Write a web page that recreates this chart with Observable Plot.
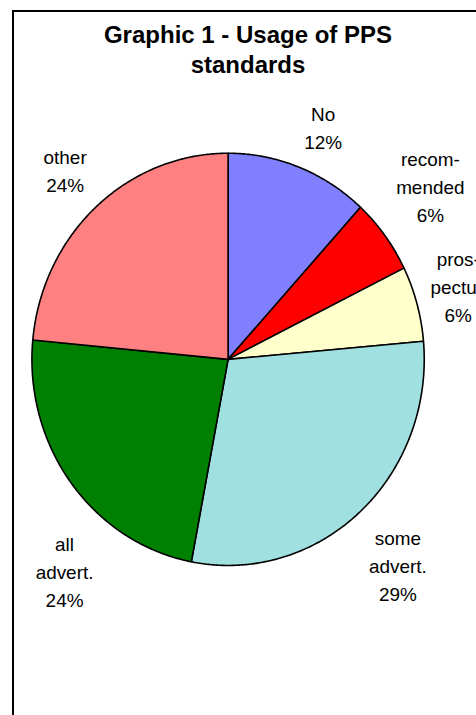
<!DOCTYPE html>
<html>
<head>
<meta charset="utf-8">
<script src="https://cdn.jsdelivr.net/npm/d3@7"></script>
<script src="https://cdn.jsdelivr.net/npm/@observablehq/plot@0.6"></script>
<style>
  html, body { margin: 0; padding: 0; background: #fff; }
  body { width: 476px; height: 715px; overflow: hidden; position: relative; font-family: "Liberation Sans", Arial, sans-serif; }
  #frame { position: absolute; left: 12px; top: 10px; width: 472px; height: 740px; border: 2px solid #000; box-sizing: border-box; }
  #title { height: 78px; box-sizing: border-box; padding-top: 8px; text-align: center; font-weight: bold; font-size: 24px; line-height: 30px; color: #000; }
  #chart svg { display: block; overflow: visible; }
</style>
</head>
<body>
<div id="frame">
  <div id="title">Graphic 1 - Usage of PPS<br>standards</div>
  <div id="chart"></div>
</div>
<script>
// ---- data ----
const categories = ["No", "recom-\nmended", "pros-\npectus", "some\nadvert.", "all\nadvert.", "other"];
const shares = [11.8, 5.9, 5.9, 29.4, 23.5, 23.5];
const pctLabels = ["12%", "6%", "6%", "29%", "24%", "24%"];
const colors = ["#8080FF", "#FF0000", "#FFFFCC", "#A0E0E0", "#008000", "#FF8080"];

// ---- layout constants ----
const W = 470, H = 625;
const CX = 214.5, CY = 270;   // pie centre inside the svg
const RX = 197, RY = 207;     // pie radii
const FONT = 19, LINE = 28, GAP = 14;
const MIN_LEFT = 35 - 14 - CX; // labels must stay right of this (data units)

const arcs = d3.pie().sort(null).startAngle(0).endAngle(2 * Math.PI)(shares);

// slice outlines
const slicePts = [];
arcs.forEach((a, i) => {
  const n = Math.max(2, Math.ceil((a.endAngle - a.startAngle) / (Math.PI / 360)));
  slicePts.push({k: i, color: colors[i], x: 0, y: 0});
  for (let j = 0; j <= n; j++) {
    const t = a.startAngle + (a.endAngle - a.startAngle) * j / n;
    slicePts.push({k: i, color: colors[i], x: RX * Math.sin(t), y: -RY * Math.cos(t)});
  }
  slicePts.push({k: i, color: colors[i], x: 0, y: 0});
});

// label placement (Excel-like outside end)
const ctx = document.createElement("canvas").getContext("2d");
ctx.font = `${FONT}px "Liberation Sans", Arial`;
const f = t => Math.min(1, Math.pow(t / 0.35, 4));
function place(theta, w, h) {
  const ux = Math.sin(theta), uy = -Math.cos(theta);
  const px = RX * ux + GAP * ux, py = RY * uy + GAP * uy;
  return {
    x: px + Math.sign(ux) * w / 2 * f(Math.abs(ux)),
    y: py + Math.sign(uy) * h / 2 * f(Math.abs(uy))
  };
}
const labels = arcs.map((a, i) => {
  const text = categories[i] + "\n" + pctLabels[i];
  const lines = text.split("\n");
  const w = d3.max(lines, l => ctx.measureText(l).width);
  const h = lines.length * LINE;
  let theta = (a.startAngle + a.endAngle) / 2;
  let p = place(theta, w, h);
  let guard = 0;
  while (p.x - w / 2 < MIN_LEFT && guard++ < 400) {
    theta += (theta < 1.5 * Math.PI ? -1 : 1) * Math.PI / 720;
    p = place(theta, w, h);
  }
  return {x: p.x, y: p.y, text};
});

const chart = Plot.plot({
  width: W,
  height: H,
  margin: 0,
  x: {domain: [-CX, W - CX], range: [0, W], axis: null},
  y: {domain: [-CY, H - CY], range: [0, H], axis: null},
  color: {type: "identity"},
  style: {background: "transparent", overflow: "visible"},
  marks: [
    Plot.line(slicePts, {x: "x", y: "y", z: "k", fill: "color", stroke: "#000", strokeWidth: 1.6, strokeLinejoin: "round", curve: "linear"}),
    Plot.text(labels, {x: "x", y: "y", text: "text", fontSize: FONT, lineHeight: LINE / FONT, textAnchor: "middle", lineAnchor: "middle", fill: "#000", fontFamily: '"Liberation Sans", Arial, sans-serif'})
  ]
});
document.getElementById("chart").appendChild(chart);
</script>
</body>
</html>
